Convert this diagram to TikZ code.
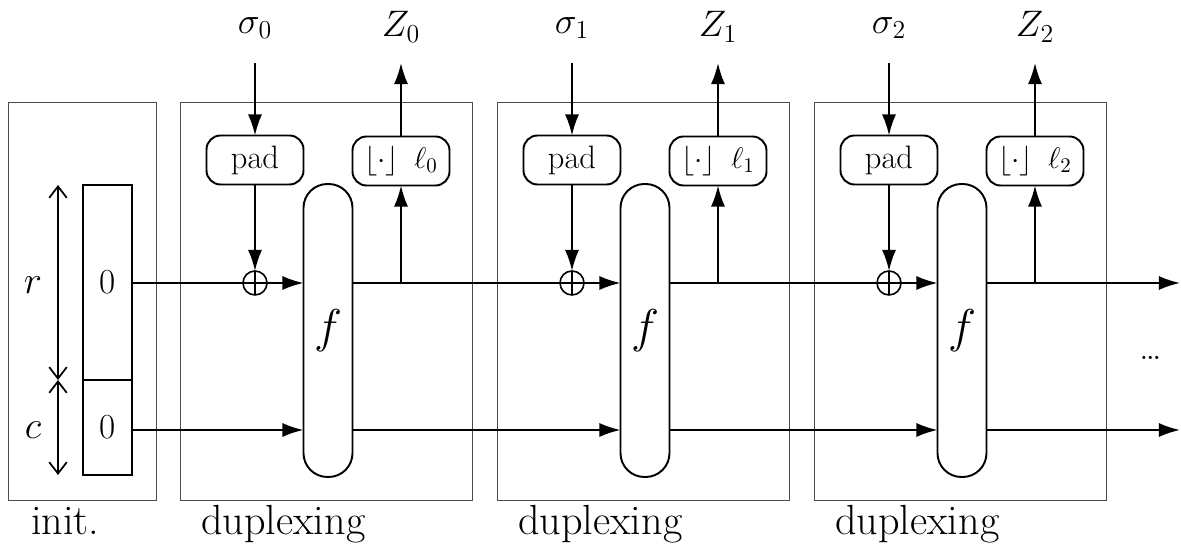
\RequirePackage{fix-cm}
\documentclass[tikz,border=0pt]{standalone}
\usepackage{fontspec}
\usetikzlibrary{arrows.meta}
\newcommand{\fsz}[1]{\fontsize{#1}{#1}\selectfont}
\begin{document}
\begin{tikzpicture}[x=0.02cm,y=-0.02cm, font=\fsz{18.5},
  frame/.style={draw=black!70, line width=0.5pt, inner sep=0pt, outer sep=0pt},
  wire/.style={line width=1.1pt},
  arr/.style={wire, -{Latex[length=12pt,width=8pt]}},
  dbl/.style={line width=1pt, {Straight Barb[length=6.5pt,width=10pt]}-{Straight Barb[length=6.5pt,width=10pt]}},
  rbox/.style={draw, line width=1.1pt, rounded corners=8pt, minimum width={97*0.02cm}, minimum height={49*0.02cm}, inner sep=0pt, outer sep=0pt},
  capsule/.style={draw, line width=1.1pt, rounded corners=13.6pt, minimum width={49*0.02cm}, minimum height={293*0.02cm}, inner sep=0pt, outer sep=0pt, font=\fsz{27}},
  reg/.style={draw, line width=1.1pt, minimum width={49*0.02cm}, inner sep=0pt, outer sep=0pt, font=\fsz{20}},
  xor/.style={circle, draw, line width=0.9pt, minimum size={24*0.02cm}, inner sep=0pt, outer sep=0pt,
    path picture={\draw[line width=0.9pt] (path picture bounding box.north) -- (path picture bounding box.south)
      (path picture bounding box.west) -- (path picture bounding box.east);}},
  iolab/.style={font=\fsz{21}},
  dimlab/.style={font=\fsz{22}},
  caption/.style={anchor=base west, font=\fsz{24}}
]
\useasboundingbox (0,0) rectangle (1181,546);

% init part
\node[frame, minimum width={148*0.02cm}, minimum height={398*0.02cm}] (initbox) at (82,301) {};
\node[reg, minimum height={195*0.02cm}] (r0) at (107.5,282.5) {0};
\node[reg, minimum height={95*0.02cm}] (c0) at (107.5,427.5) {0};
\coordinate (rt) at (58,185);
\coordinate (mid) at (58,380);
\coordinate (cb) at (58,475);
\draw[dbl] (rt) -- (mid);
\draw[dbl] (mid) -- (cb);
\node[dimlab] (rlab) at (33,285) {$r$};
\node[dimlab] (clab) at (33,430) {$c$};
\node[caption] (initlab) at (25,535) {init.};

\coordinate (bot) at (0,430);

\foreach \i in {0,1,2}{
  \pgfmathsetmacro\o{317*\i}
  \node[frame, minimum width={292*0.02cm}, minimum height={398*0.02cm}] (box\i) at ({326+\o},301) {};
  \node[rbox] (pad\i) at ({255+\o},160) {pad};
  \node[rbox, font=\fsz{17}] (fl\i) at ({401+\o},161) {$\lfloor\cdot\rfloor\mkern9mu\ell_{\i}$};
  \node[capsule] (f\i) at ({328+\o},330.5) {$f$};
  \node[xor] (x\i) at ({255+\o},283) {};
  \node[iolab] (sig\i) at ({255+\o},28) {$\sigma_{\i}$};
  \node[iolab] (Z\i) at ({401+\o},27) {$Z_{\i}$};
  \coordinate (sin\i) at ({255+\o},63);
  \coordinate (zout\i) at ({401+\o},63);
  \coordinate (tap\i) at ({401+\o},283);
  \node[caption] (dup\i) at ({195+\o},535) {duplexing};
  \draw[arr] (sin\i) -- (pad\i);
  \draw[arr] (pad\i) -- (x\i);
  \draw[arr] (x\i) -- (x\i -| f\i.west);
  \draw[arr] (tap\i) -- (tap\i |- fl\i.south);
  \draw[arr] (tap\i |- fl\i.north) -- (zout\i);
}

% connections between stages
\draw[wire] (r0.east |- x0) -- (x0);
\draw[wire] (f0.east |- x0) -- (x1);
\draw[wire] (f1.east |- x1) -- (x2);
\coordinate (endr) at (1180,283);
\coordinate (endc) at (1180,430);
\draw[arr] (f2.east |- x2) -- (endr);

\draw[arr] (c0.east |- bot) -- (f0.west |- bot);
\draw[arr] (f0.east |- bot) -- (f1.west |- bot);
\draw[arr] (f1.east |- bot) -- (f2.west |- bot);
\draw[arr] (f2.east |- bot) -- (endc);

\node[font=\fsz{22}] (dots) at (1151,358) {\ldots};
\end{tikzpicture}
\end{document}
